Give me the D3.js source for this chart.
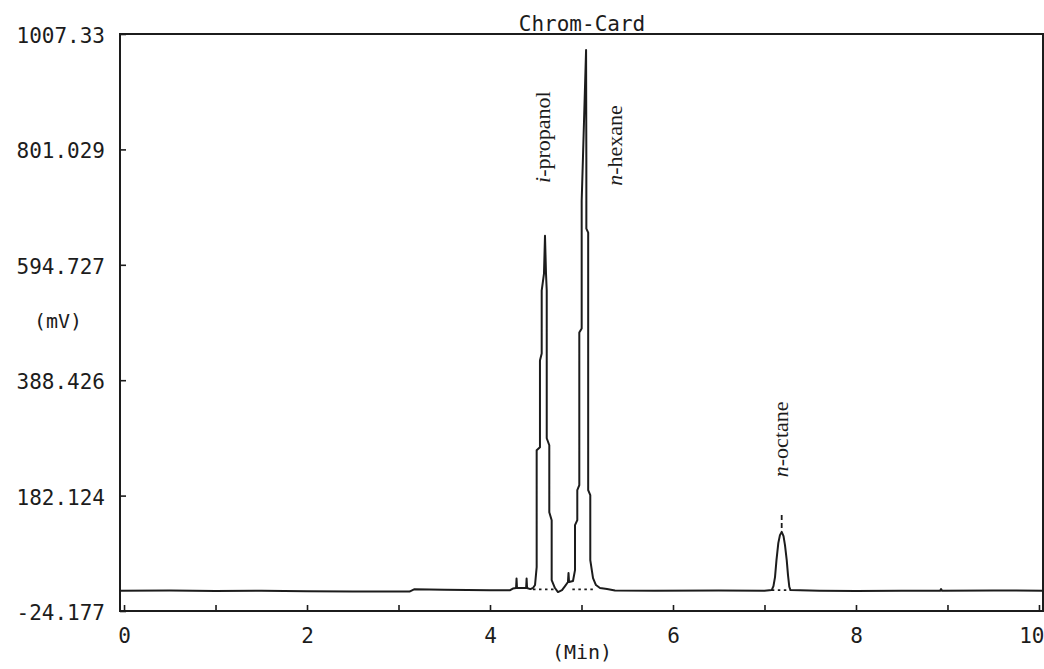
<!DOCTYPE html>
<html>
<head>
<meta charset="utf-8">
<script src="https://cdn.jsdelivr.net/npm/d3@7"></script>
<style>
  html, body { margin: 0; padding: 0; background: #ffffff; }
  svg { display: block; }
</style>
</head>
<body>
<svg id="chart" width="1044" height="669"></svg>
<script>
// ---- Data ----
const title = "Chrom-Card";
const xLabel = "(Min)";
const yLabel = "(mV)";

const xTickValues = [0,1,2,3,4,5,6,7,8,9,10];
const xTickLabels = ["0","","2","","4","","6","","8","","10"];
const yTickValues = [-24.177, 182.124, 388.426, 594.727, 801.029, 1007.33];
const yTickLabels = ["-24.177", "182.124", "388.426", "594.727", "801.029", "1007.33"];

// detector trace: time (min) and signal (mV)
const times = [
  -0.044, 0.5, 1.0, 1.5, 2.0, 2.5, 3.12, 3.17, 3.5, 4.0, 4.22, 4.25, 4.285, 4.29, 4.295,
  4.395, 4.40, 4.405, 4.44, 4.470, 4.492, 4.510, 4.510, 4.546, 4.546, 4.565, 4.565, 4.590,
  4.601, 4.612, 4.620, 4.620, 4.648, 4.648, 4.674, 4.674, 4.710, 4.743, 4.787, 4.820, 4.852,
  4.858, 4.864, 4.907, 4.929, 4.929, 4.954, 4.954, 4.976, 4.976, 5.002, 5.002, 5.016, 5.050,
  5.053, 5.053, 5.073, 5.073, 5.096, 5.096, 5.126, 5.158, 5.202, 5.279, 5.366, 5.8, 6.5,
  7.0, 7.079, 7.098, 7.115, 7.131, 7.151, 7.169, 7.188, 7.208, 7.224, 7.243, 7.257, 7.271,
  7.284, 7.6, 8.0, 8.5, 8.92, 8.93, 8.94, 9.5, 10.044
];
const signal = [
  12, 12.5, 11.5, 12, 11, 10.5, 10.5, 14.5, 14, 13, 13, 16, 17, 34, 17,
  17, 34, 17, 15, 16.9, 22.2, 54.3, 263.1, 268.5, 423.8, 436.3, 548.7, 579.0,
  646.8, 579.0, 548.7, 284.6, 272.1, 152.5, 138.2, 31.1, 16.9, 9.7, 13.3, 20.4, 27.6,
  43.6, 27.6, 29.4, 49.0, 129.3, 138.2, 191.8, 200.7, 473.7, 480.9, 709.3, 786.0, 978.8,
  786.0, 659.3, 652.2, 191.8, 182.8, 66.8, 34.7, 22.2, 16.9, 15.1, 12.4, 12, 12.5,
  12, 13.3, 20.4, 36.5, 66.8, 97.2, 111.5, 117.3, 109.7, 93.6, 66.8, 40.1, 19.2,
  13.3, 12, 11.5, 12, 12, 15, 12, 12.5, 12
];

// integration baselines (dotted) under the peaks
const baseStart = [4.47, 4.90, 7.08];
const baseEnd   = [4.71, 5.15, 7.28];
const baseLevel = [14.5, 14.5, 13];

// peak marker (dashed tick above n-octane)
const markerTime = [7.188];
const markerLow  = [124];
const markerHigh = [148];

// peak labels
const peakNames  = ["propanol", "hexane", "octane"];
const peakPrefix = ["i", "n", "n"];
const peakLabelTime = [4.655, 5.445, 7.258];
const peakLabelStart = [741, 736, 215];   // mV position where the rotated text starts

// ---- Drawing ----
const svg = d3.select("#chart");
const ink = "#1c1c1c";
const monoFont = "'DejaVu Sans Mono', 'Liberation Mono', monospace";

const x = d3.scaleLinear().domain([-0.044, 10.044]).range([120, 1043]);
const y = d3.scaleLinear().domain([-24.177, 1007.33]).range([611, 34]);

// frame
svg.append("rect")
  .attr("x", x.range()[0]).attr("y", y.range()[1])
  .attr("width", x.range()[1] - x.range()[0])
  .attr("height", y.range()[0] - y.range()[1])
  .attr("fill", "none").attr("stroke", ink).attr("stroke-width", 2);

// x axis (ticks pointing inward)
const xAxis = d3.axisBottom(x)
  .tickValues(xTickValues)
  .tickSize(-6)
  .tickPadding(17)
  .tickFormat((d, i) => xTickLabels[i]);
const gx = svg.append("g").attr("transform", `translate(0,${y.range()[0]})`).call(xAxis);
gx.select(".domain").remove();
gx.selectAll(".tick line").attr("stroke", ink).attr("stroke-width", 1.6);
gx.selectAll(".tick text")
  .attr("fill", ink).style("font-family", monoFont).style("font-size", "21px");
gx.selectAll(".tick text").filter(d => d === 10).attr("text-anchor", "end").attr("dx", 5);

// y axis (ticks pointing inward)
const yAxis = d3.axisLeft(y)
  .tickValues(yTickValues)
  .tickSize(-6)
  .tickPadding(15)
  .tickFormat((d, i) => yTickLabels[i]);
const gy = svg.append("g").attr("transform", `translate(${x.range()[0]},0)`).call(yAxis);
gy.select(".domain").remove();
gy.selectAll(".tick line").attr("stroke", ink).attr("stroke-width", 1.6);
gy.selectAll(".tick text")
  .attr("fill", ink).attr("dy", "0.4em")
  .style("font-family", monoFont).style("font-size", "21px");

// title and axis labels
svg.append("text").attr("x", 582).attr("y", 31)
  .attr("text-anchor", "middle").attr("fill", ink)
  .style("font-family", monoFont).style("font-size", "21px").text(title);
svg.append("text").attr("x", 582).attr("y", 659)
  .attr("text-anchor", "middle").attr("fill", ink)
  .style("font-family", monoFont).style("font-size", "20px").text(xLabel);
svg.append("text").attr("x", 58).attr("y", 328)
  .attr("text-anchor", "middle").attr("fill", ink)
  .style("font-family", monoFont).style("font-size", "20px").text(yLabel);

// dotted integration baselines
svg.append("g").selectAll("line").data(baseStart).join("line")
  .attr("x1", (d) => x(d)).attr("x2", (d, i) => x(baseEnd[i]))
  .attr("y1", (d, i) => y(baseLevel[i])).attr("y2", (d, i) => y(baseLevel[i]))
  .attr("stroke", ink).attr("stroke-width", 1.8).attr("stroke-dasharray", "2.5,3.5");

// trace
const pts = times.map((t, i) => [t, signal[i]]);
svg.append("path")
  .attr("d", d3.line().x(d => x(d[0])).y(d => y(d[1]))(pts))
  .attr("fill", "none").attr("stroke", ink).attr("stroke-width", 2)
  .attr("stroke-linejoin", "round");

// peak markers
svg.append("g").selectAll("line").data(markerTime).join("line")
  .attr("x1", d => x(d)).attr("x2", d => x(d))
  .attr("y1", (d, i) => y(markerLow[i])).attr("y2", (d, i) => y(markerHigh[i]))
  .attr("stroke", ink).attr("stroke-width", 1.8).attr("stroke-dasharray", "5,3");

// peak labels (rotated, serif)
const lbl = svg.append("g").selectAll("text").data(peakNames).join("text")
  .attr("transform", (d, i) => `translate(${x(peakLabelTime[i])},${y(peakLabelStart[i])}) rotate(-90)`)
  .attr("fill", ink)
  .style("font-family", "'Liberation Serif', 'DejaVu Serif', serif")
  .style("font-size", "22px");
lbl.append("tspan").style("font-style", "italic").text((d, i) => peakPrefix[i]);
lbl.append("tspan").text(d => "-" + d);
</script>
</body>
</html>
